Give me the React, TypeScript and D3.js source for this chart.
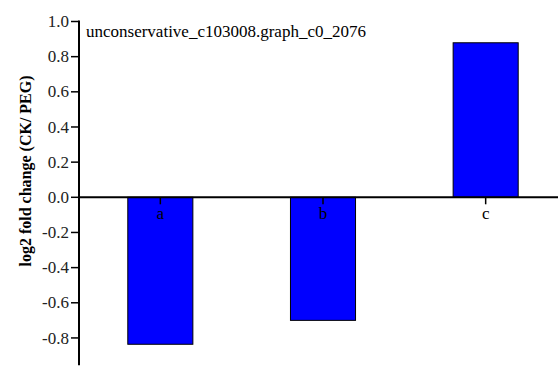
import React from "react";
import * as d3 from "d3";

const categories = ["a", "b", "c"];
const values = [-0.836, -0.7, 0.879];
const yTicks = [1.0, 0.8, 0.6, 0.4, 0.2, 0.0, -0.2, -0.4, -0.6, -0.8];
const title = "unconservative_c103008.graph_c0_2076";
const yLabel = "log2 fold change (CK/ PEG)";

export default function App() {
  const W = 558, H = 367;
  const x0 = 79;
  const yScale = d3.scaleLinear().domain([0, 1]).range([197.3, 21.5]);
  const xScale = d3.scaleBand().domain(categories).range([x0, x0 + 488]).paddingInner(0.6).paddingOuter(0.3);
  const font = "Liberation Serif, Times New Roman, serif";
  const fmt = (t: number) => d3.format(".1f")(t).replace("\u2212", "-");
  return (
    <div style={{ position: "absolute", left: 0, top: 0 }}>
      <svg width={W} height={H} style={{ display: "block" }}>
        <rect width={W} height={H} fill="#fff" />
        {categories.map((c, i) => {
          const v = values[i];
          const yTop = yScale(Math.max(0, v));
          const yBot = yScale(Math.min(0, v));
          return (
            <rect key={c} x={xScale(c)} y={yTop} width={xScale.bandwidth()} height={yBot - yTop}
              fill="#0000ff" stroke="#000" strokeWidth={1} />
          );
        })}
        <line x1={x0} x2={W} y1={yScale(0)} y2={yScale(0)} stroke="#000" strokeWidth={2} />
        {categories.map((c) => {
          const cx = (xScale(c) as number) + xScale.bandwidth() / 2;
          return (
            <g key={c}>
              <line x1={cx} x2={cx} y1={yScale(0)} y2={yScale(0) + 7} stroke="#000" strokeWidth={1.5} />
              <text x={cx} y={yScale(0) + 22} textAnchor="middle" style={{ fontFamily: font, fontSize: 17 }} fill="#000">{c}</text>
            </g>
          );
        })}
        <line x1={x0} x2={x0} y1={yScale(1) - 1} y2={yScale(-0.955)} stroke="#000" strokeWidth={2} />
        {yTicks.map((t) => (
          <g key={t}>
            <line x1={x0 - 8} x2={x0} y1={yScale(t)} y2={yScale(t)} stroke="#000" strokeWidth={1.5} />
            <text x={x0 - 10} y={yScale(t)} dy="0.33em" textAnchor="end" style={{ fontFamily: font, fontSize: 17 }} fill="#222">
              {fmt(t)}
            </text>
          </g>
        ))}
        <text x={86} y={37} style={{ fontFamily: font, fontSize: 17 }} fill="#000">{title}</text>
        <text transform={`translate(31, 171) rotate(-90)`} textAnchor="middle"
          style={{ fontFamily: font, fontSize: 16, fontWeight: "bold" }} fill="#000">{yLabel}</text>
      </svg>
    </div>
  );
}
